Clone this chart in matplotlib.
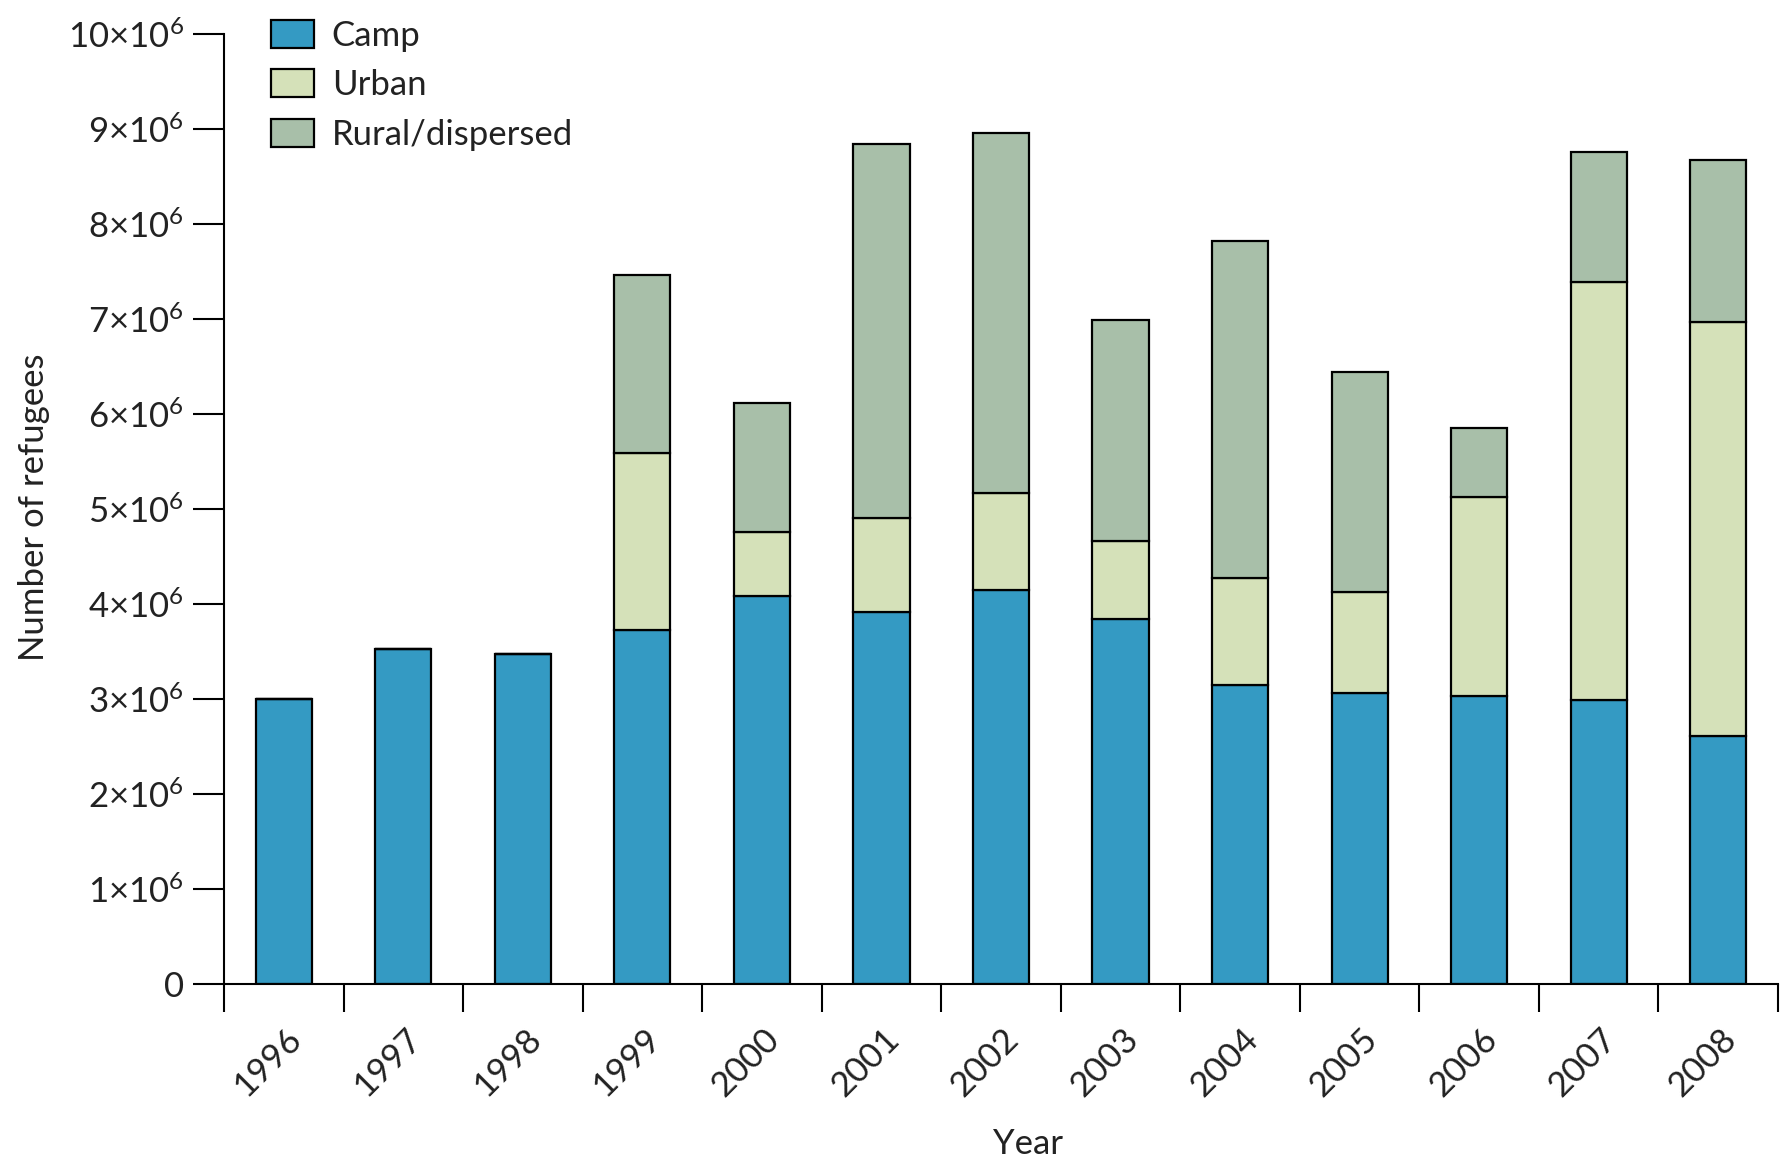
import matplotlib
matplotlib.use("Agg")
import matplotlib.pyplot as plt
import matplotlib.transforms as mtransforms
from matplotlib.patches import Patch
import numpy as np

plt.rcParams['font.family'] = ['Lato', 'DejaVu Sans']
plt.rcParams['mathtext.fontset'] = 'custom'
plt.rcParams['mathtext.rm'] = 'Lato'
plt.rcParams['mathtext.it'] = 'Lato:italic'
plt.rcParams['mathtext.bf'] = 'Lato:bold'

years = ['1996', '1997', '1998', '1999', '2000', '2001', '2002',
         '2003', '2004', '2005', '2006', '2007', '2008']
# millions of refugees
camp = [3.00, 3.52, 3.47, 3.72, 4.08, 3.91, 4.15, 3.84, 3.15, 3.06, 3.03, 2.99, 2.61]
urban = [0, 0, 0, 1.87, 0.68, 0.99, 1.02, 0.82, 1.12, 1.06, 2.09, 4.40, 4.36]
rural = [0, 0, 0, 1.87, 1.36, 3.94, 3.79, 2.33, 3.55, 2.32, 0.73, 1.37, 1.70]

c_camp = '#349ac3'
c_urban = '#d5e1b9'
c_rural = '#a8bfa9'
fs = 25

camp = np.array(camp) * 1e6
urban = np.array(urban) * 1e6
rural = np.array(rural) * 1e6
x = np.arange(len(years))

fig = plt.figure(figsize=(17.85, 11.63), dpi=100)
ax = fig.add_axes([0.1255, 0.1543, 0.8706, 0.8163])

kw = dict(width=0.47, edgecolor='black', linewidth=1.6)
ax.bar(x, camp, color=c_camp, **kw)
ax.bar(x, urban, bottom=camp, color=c_urban, **kw)
ax.bar(x, rural, bottom=camp + urban, color=c_rural, **kw)

ax.set_xlim(-0.5, len(years) - 0.5)
ax.set_ylim(0, 10e6)

for s in ['top', 'right']:
    ax.spines[s].set_visible(False)
for s in ['left', 'bottom']:
    ax.spines[s].set_linewidth(1.5)

yt = np.arange(0, 11) * 1e6
ylabs = ['0'] + ['%d×$10^{6}$' % i for i in range(1, 11)]
ax.set_yticks(yt)
ax.set_yticklabels(ylabs, fontsize=fs, color='#222222')
ax.tick_params(axis='y', length=22, width=1.5, pad=7)

# boundary ticks (major, no labels) and centered labels (minor)
ax.set_xticks(np.arange(-0.5, len(years), 1.0))
ax.set_xticklabels([])
ax.tick_params(axis='x', which='major', length=20, width=1.5)
ax.set_xticks(x, minor=True)
ax.set_xticklabels(years, minor=True, rotation=45, ha='right', va='top',
                   fontsize=fs, color='#222222')
ax.tick_params(axis='x', which='minor', length=0, pad=28)
off = mtransforms.ScaledTranslation(24 / 100, 0, fig.dpi_scale_trans)
for lab in ax.get_xticklabels(minor=True):
    lab.set_transform(lab.get_transform() + off)

fig.text(0.576, 0.0163, 'Year', ha='center', va='center', fontsize=fs, color='#222222')
fig.text(0.019, 0.564, 'Number of refugees', ha='center', va='center',
         rotation=90, fontsize=fs, color='#222222')

handles = [Patch(facecolor=c_camp, edgecolor='black', linewidth=1.6, label='Camp'),
           Patch(facecolor=c_urban, edgecolor='black', linewidth=1.6, label='Urban'),
           Patch(facecolor=c_rural, edgecolor='black', linewidth=1.6, label='Rural/dispersed')]
leg = ax.legend(handles=handles, loc='upper left',
                bbox_to_anchor=(271 / 1785, 1 - 20 / 1163),
                bbox_transform=fig.transFigure, frameon=False, fontsize=fs,
                handlelength=1.25, handleheight=0.85, handletextpad=0.5,
                labelspacing=0.5, borderpad=0, borderaxespad=0)
for t in leg.get_texts():
    t.set_color('#222222')

fig.savefig('out.png', dpi=100)
